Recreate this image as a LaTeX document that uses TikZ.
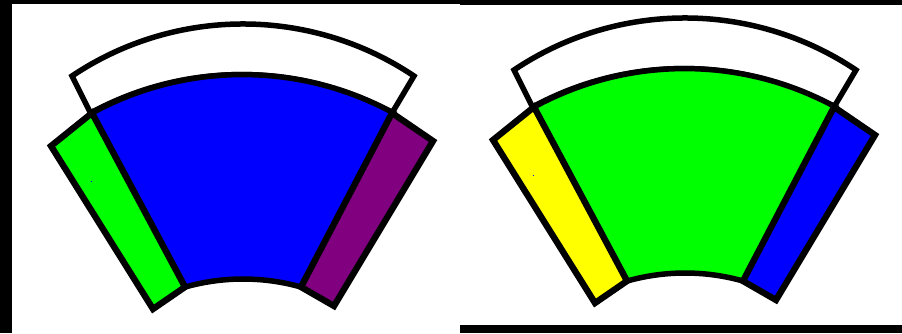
\documentclass[tikz,border=0pt]{standalone}
\definecolor{pureblue}{RGB}{0,0,255}
\definecolor{puregreen}{RGB}{0,255,0}
\definecolor{purepurple}{RGB}{128,0,128}
\definecolor{pureyellow}{RGB}{255,255,0}
\newcommand\drawsectorshape[3]{%
  % top band
  \filldraw[outline,fill=white] (72,76) arc[start angle=236.15,end angle=303.85,radius=307]
    -- (392,113) arc[start angle=298.6,end angle=241.4,radius=315] -- cycle;
  % middle part
  \filldraw[outline,fill=#2] (92,113) arc[start angle=241.4,end angle=298.6,radius=315]
    -- (301,287) arc[start angle=285.7,end angle=254.3,radius=214] -- cycle;
  % left strip
  \filldraw[outline,stripline,fill=#1] (51,146) -- (92,113) -- (185,287) -- (153,309) -- cycle;
  % right strip
  \filldraw[outline,stripline,fill=#3] (392,113) -- (433,141) -- (334,306) -- (301,287) -- cycle;
  % tiny dot
  \fill[pureblue] (90.5,180.5) rectangle (91.5,181.5);
}
\begin{document}
\begin{tikzpicture}[x=0.03cm,y=-0.03cm,
  outline/.style={draw=black,line width=0.165cm,line join=miter},
  stripline/.style={line width=0.19cm}]
\useasboundingbox (0,0) rectangle (902,333);
\fill[black] (0,0) rectangle (902,333);
\fill[white] (12,4) rectangle (460,333);
\fill[white] (460,5) rectangle (902,325);
\begin{scope}
  \drawsectorshape{puregreen}{pureblue}{purepurple}
\end{scope}
\begin{scope}[shift={(442,-6)}]
  \drawsectorshape{pureyellow}{puregreen}{pureblue}
\end{scope}
\end{tikzpicture}
\end{document}
